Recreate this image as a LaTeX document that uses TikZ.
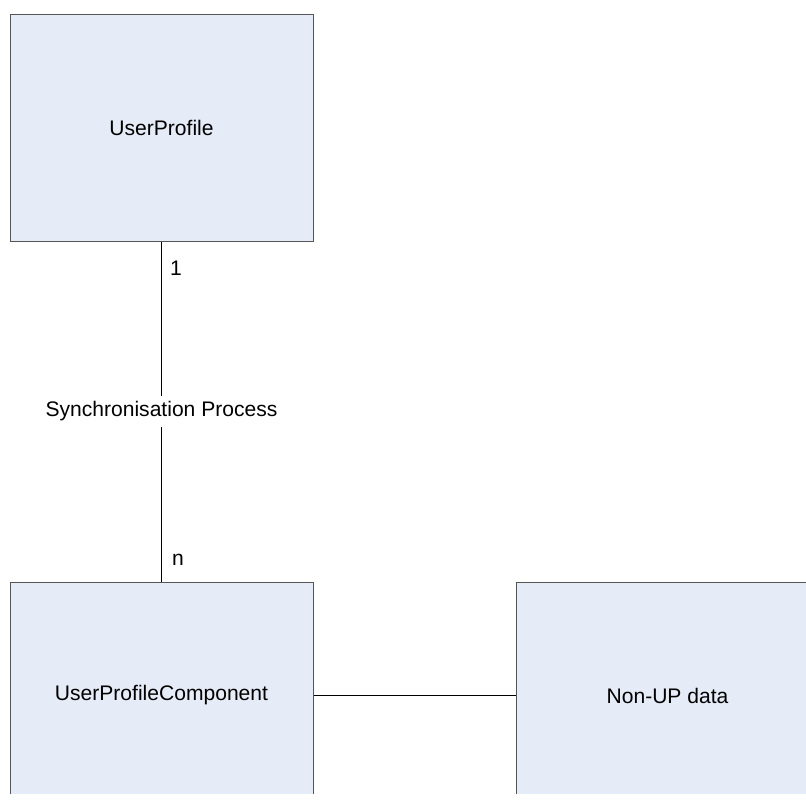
\documentclass[tikz,border=0pt]{standalone}
\usepackage{fontspec}
\setmainfont{Liberation Sans}
\usepackage{xcolor}
\definecolor{boxfill}{HTML}{E6ECF7}
\definecolor{boxline}{HTML}{555555}
\begin{document}
\begin{tikzpicture}[x=0.75pt,y=-0.75pt,
  entity/.style={draw=boxline,fill=boxfill,line width=0.75pt,minimum width=227.25pt,minimum height=170.25pt,inner sep=0pt,font=\fontsize{15.8}{18}\selectfont},
  lbl/.style={font=\fontsize{15.8}{18}\selectfont,inner sep=1pt}]
  \useasboundingbox (0,0) rectangle (806,803);

  % entities (lower two run off the page)
  \begin{scope}
    \clip (0,0) rectangle (806,793);
    \node[entity] (profile) at (161.5,127.5) {UserProfile};
    \node[entity] (component) at (161.5,695.5) {UserProfileComponent};
    \node[entity] (nonup) at (667.5,695.5) {Non-UP data};
  \end{scope}

  % associations
  \node[lbl,fill=white,inner ysep=4pt] (sync) at (161.5,411.5) {Synchronisation Process};
  \draw[line width=0.75pt] (profile.south) -- (sync.north);
  \draw[line width=0.75pt] (sync.south) -- (component.north);
  \draw[line width=0.75pt] (component.east) -- (nonup.west);

  % multiplicities
  \node[lbl] (one) at (176,268) {1};
  \node[lbl] (many) at (178,560) {n};
\end{tikzpicture}
\end{document}
